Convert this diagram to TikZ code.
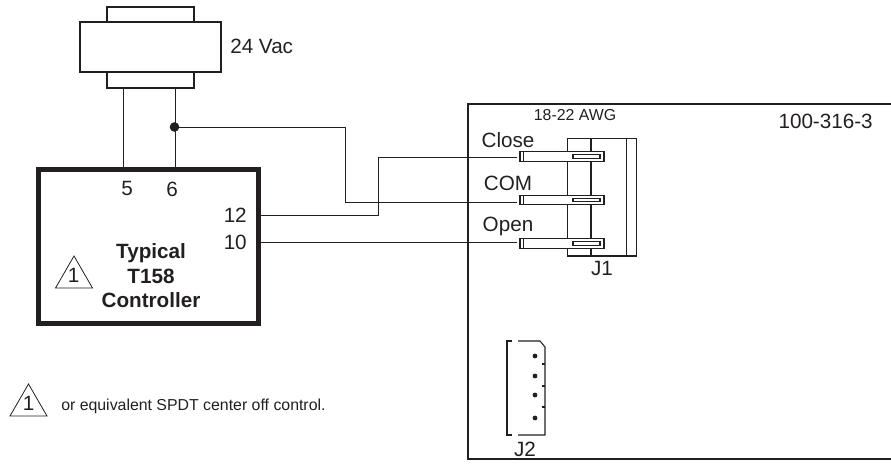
\documentclass[tikz,border=0pt]{standalone}
\usepackage{fontspec}
\setmainfont{Liberation Sans}
\definecolor{ink}{RGB}{35,31,32}
\newcommand{\labeltext}[4]{\node[text=ink, inner sep=0pt, font=\fontsize{15.5}{18}\selectfont, #1] (#2) at #3 {#4};}
\newcommand{\drawpin}[3]{
  \draw[pinline, fill=white] (520,#1-4.8) rectangle (604,#1+4.8);
  \draw[pinline] (523.5,#1-4.8)--(523.5,#1+4.8);
  \draw[pinline] (573,#1-1.8) rectangle (600,#1+1.8);
  \coordinate (#3) at (517,#2);
}
\tikzset{
  wire/.style={ink, line width=0.75pt},
  pinline/.style={ink, line width=0.8pt},
  boxline/.style={ink, line width=1.5pt},
  thickbox/.style={ink, line width=3.75pt},
  notemark/.style={ink, line width=0.6pt},
  boldtext/.style={font=\fontsize{15.5}{18}\selectfont\bfseries, anchor=base}
}
\begin{document}
\begin{tikzpicture}[x=0.75pt,y=-0.75pt]
\useasboundingbox (0,0) rectangle (891,464);
% transformer
\draw[boxline] (107,22)--(107,6.5)--(194,6.5)--(194,22);
\draw[boxline] (107,72)--(107,88)--(194,88)--(194,72);
\draw[boxline] (79.5,22)--(221,22)--(221,72)--(79.5,72)--cycle;
\coordinate (tfleft) at (123,88);
\coordinate (tfright) at (175,88);
\labeltext{anchor=west}{tfvolts}{(230,46)}{24 Vac}
% controller
\draw[thickbox] (38.5,169.5)--(258.5,169.5)--(258.5,323.5)--(38.5,323.5)--cycle;
\coordinate (term5) at (123,169.5);
\coordinate (term6) at (175,169.5);
\coordinate (term12) at (258.5,215);
\coordinate (term10) at (258.5,242);
\coordinate (tap) at (174.5,127);
\labeltext{}{five}{(127,188)}{5}
\labeltext{}{six}{(172,189)}{6}
\labeltext{anchor=east}{twelve}{(247,215)}{12}
\labeltext{anchor=east}{ten}{(247,242)}{10}
\labeltext{boldtext}{typical}{(151,258)}{Typical}
\labeltext{boldtext}{model}{(151,283)}{T158}
\labeltext{boldtext}{ctrl}{(151,307)}{Controller}
% note marks
\draw[notemark] (74,256)--(92.5,288)--(55.5,288)--cycle;
\labeltext{}{markone}{(73.5,275)}{1}
\draw[notemark] (28.5,384)--(47,416)--(10,416)--cycle;
\labeltext{}{marktwo}{(28.5,403)}{1}
\node[anchor=west, text=ink, inner sep=0pt, font=\fontsize{11.9}{14}\selectfont] (note) at (61,406) {or equivalent SPDT center off control.};
% board
\draw[boxline] (891,103.5)--(467.5,103.5)--(467.5,459)--(891,459);
\node[text=ink, inner sep=0pt, font=\fontsize{11.9}{14}\selectfont] (awg) at (575,115) {18-22 AWG};
\labeltext{anchor=east}{partno}{(873,121.5)}{100-316-3}
% J1
\draw[pinline] (567.5,138.5) rectangle (636.5,256);
\draw[pinline] (591,138.5)--(591,256);
\draw[pinline] (626.5,138.5)--(626.5,256);
\drawpin{156.5}{157}{pinclose}
\drawpin{200}{202}{pincom}
\drawpin{243.5}{242}{pinopen}
\labeltext{}{close}{(508,140)}{Close}
\labeltext{}{com}{(508,183)}{COM}
\labeltext{}{open}{(508,226)}{Open}
\labeltext{}{jone}{(602,268)}{J1}
% J2
\draw[pinline] (512,341)--(507,341)--(507,435)--(512,435);
\draw[pinline] (518,341)--(540,341)--(545,347)--(545,435)--(518,435);
\foreach \y in {364,386,407}{
  \draw[pinline] (542,\y)--(545,\y);
}
\foreach \y in {356,376,395,418}{
  \fill[ink] (535,\y) circle (1.8pt);
}
\labeltext{}{jtwo}{(525,449)}{J2}
% wires
\draw[wire] (tfleft)--(term5);
\draw[wire] (tfright)--(term6);
\fill[ink] (tap) circle (3.6pt);
\draw[wire] (tap)-|(345,202)--(pincom);
\draw[wire] (term12)-|(378,157)--(pinclose);
\draw[wire] (term10)--(pinopen);
\end{tikzpicture}
\end{document}
